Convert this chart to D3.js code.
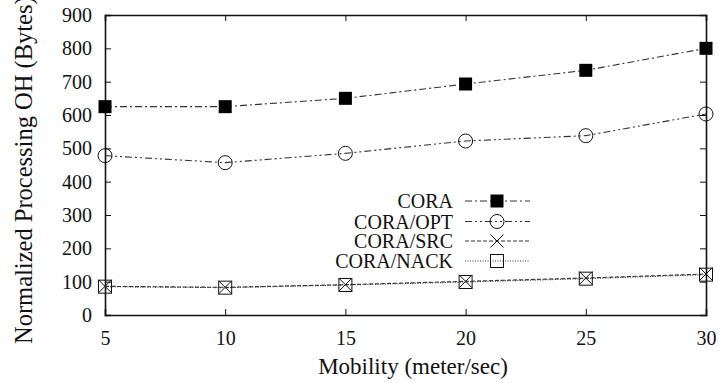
<!DOCTYPE html>
<html>
<head>
<meta charset="utf-8">
<script src="https://cdn.jsdelivr.net/npm/d3@7/dist/d3.min.js"></script>
<style>
  html, body { margin: 0; padding: 0; background: #fff; }
  svg { display: block; }
</style>
</head>
<body>
<svg id="chart" width="718" height="383"></svg>
<script>
// Mobility levels (meter/sec)
const mobility = [5, 10, 15, 20, 25, 30];

// Normalized processing overhead (bytes) per scheme
const cora     = [625, 625, 650, 693, 734, 800];
const coraOpt  = [478, 457, 485, 522, 538, 603];
const coraSrc  = [86, 83, 91, 101, 111, 123];
const coraNack = [85, 82, 90, 99, 109, 121];

const seriesNames = ["CORA", "CORA/OPT", "CORA/SRC", "CORA/NACK"];
const xTicks = [5, 10, 15, 20, 25, 30];
const yTicks = [0, 100, 200, 300, 400, 500, 600, 700, 800, 900];

const series = [
  { name: seriesNames[0], values: cora,     marker: "fsquare", dash: "7,3,2,3" },
  { name: seriesNames[1], values: coraOpt,  marker: "circle",  dash: "7,3,2,3,2,3" },
  { name: seriesNames[2], values: coraSrc,  marker: "cross",   dash: "4,2" },
  { name: seriesNames[3], values: coraNack, marker: "osquare", dash: "1,1.5" }
];

const FONT = '"Liberation Serif"';
const svg = d3.select("#chart");
const m = { left: 105, right: 12, top: 15, bottom: 68 };
const W = 718, H = 383;
const x = d3.scaleLinear().domain([5, 30]).range([m.left, W - m.right]);
const y = d3.scaleLinear().domain([0, 900]).range([H - m.bottom, m.top]);

const tickLen = 6;
const axisColor = "#111";

// Axes with inward ticks on all four sides
const gx = svg.append("g").attr("transform", `translate(0,${y(0)})`)
  .call(d3.axisBottom(x).tickValues(xTicks).tickSize(-tickLen).tickPadding(16));
const gxTop = svg.append("g").attr("transform", `translate(0,${y(900)})`)
  .call(d3.axisTop(x).tickValues(xTicks).tickSize(-tickLen).tickFormat(""));
const gy = svg.append("g").attr("transform", `translate(${x(5)},0)`)
  .call(d3.axisLeft(y).tickValues(yTicks).tickSize(-tickLen).tickPadding(13));
const gyRight = svg.append("g").attr("transform", `translate(${x(30)},0)`)
  .call(d3.axisRight(y).tickValues(yTicks).tickSize(-tickLen).tickFormat(""));

[gx, gxTop, gy, gyRight].forEach(g => {
  g.select(".domain").attr("stroke", axisColor).attr("stroke-width", 1.6);
  g.selectAll(".tick line").attr("stroke", axisColor).attr("stroke-width", 1);
  g.selectAll(".tick text").attr("font-size", 20).attr("fill", "#111")
    .style("font-family", FONT);
});
gx.selectAll(".tick text").attr("dy", "0.71em");

// Axis titles
svg.append("text")
  .attr("x", 413).attr("y", 374)
  .attr("text-anchor", "middle").attr("font-size", 23).attr("fill", "#111")
  .style("font-family", FONT)
  .text("Mobility (meter/sec)");
svg.append("text")
  .attr("transform", "translate(32,344) rotate(-90)")
  .attr("text-anchor", "start").attr("font-size", 24.5).attr("fill", "#111")
  .style("font-family", FONT)
  .text("Normalized Processing OH (Bytes)");

// Marker drawing
function drawMarker(g, type, cx, cy) {
  if (type === "fsquare") {
    g.append("rect").attr("x", cx - 6.5).attr("y", cy - 6.5).attr("width", 13).attr("height", 13).attr("fill", "#000");
  } else if (type === "circle") {
    g.append("circle").attr("cx", cx).attr("cy", cy).attr("r", 7).attr("fill", "none").attr("stroke", "#111").attr("stroke-width", 1);
  } else if (type === "cross") {
    const s = 6.5;
    g.append("path").attr("d", `M${cx - s},${cy - s}L${cx + s},${cy + s}M${cx - s},${cy + s}L${cx + s},${cy - s}`)
      .attr("stroke", "#111").attr("stroke-width", 1).attr("fill", "none");
  } else if (type === "osquare") {
    g.append("rect").attr("x", cx - 6.5).attr("y", cy - 6.5).attr("width", 13).attr("height", 13)
      .attr("fill", "none").attr("stroke", "#111").attr("stroke-width", 1);
  }
}

const line = d3.line().x((d, i) => x(mobility[i])).y(d => y(d));

// Series lines and markers
series.forEach(s => {
  const g = svg.append("g");
  g.append("path").attr("d", line(s.values))
    .attr("fill", "none").attr("stroke", "#333").attr("stroke-width", 1.1)
    .attr("stroke-dasharray", s.dash);
  s.values.forEach((v, i) => drawMarker(g, s.marker, x(mobility[i]), y(v)));
});

// Legend
const legRows = [201, 221.5, 241, 261];
series.forEach((s, i) => {
  const g = svg.append("g");
  const ly = legRows[i];
  g.append("text").attr("x", 453).attr("y", ly).attr("dy", "0.35em")
    .attr("text-anchor", "end").attr("font-size", 20).attr("fill", "#111")
    .style("font-family", FONT).text(s.name);
  g.append("line").attr("x1", 465).attr("x2", 530).attr("y1", ly).attr("y2", ly)
    .attr("stroke", "#333").attr("stroke-width", 1.1).attr("stroke-dasharray", s.dash);
  drawMarker(g, s.marker, 497, ly);
});
</script>
</body>
</html>
